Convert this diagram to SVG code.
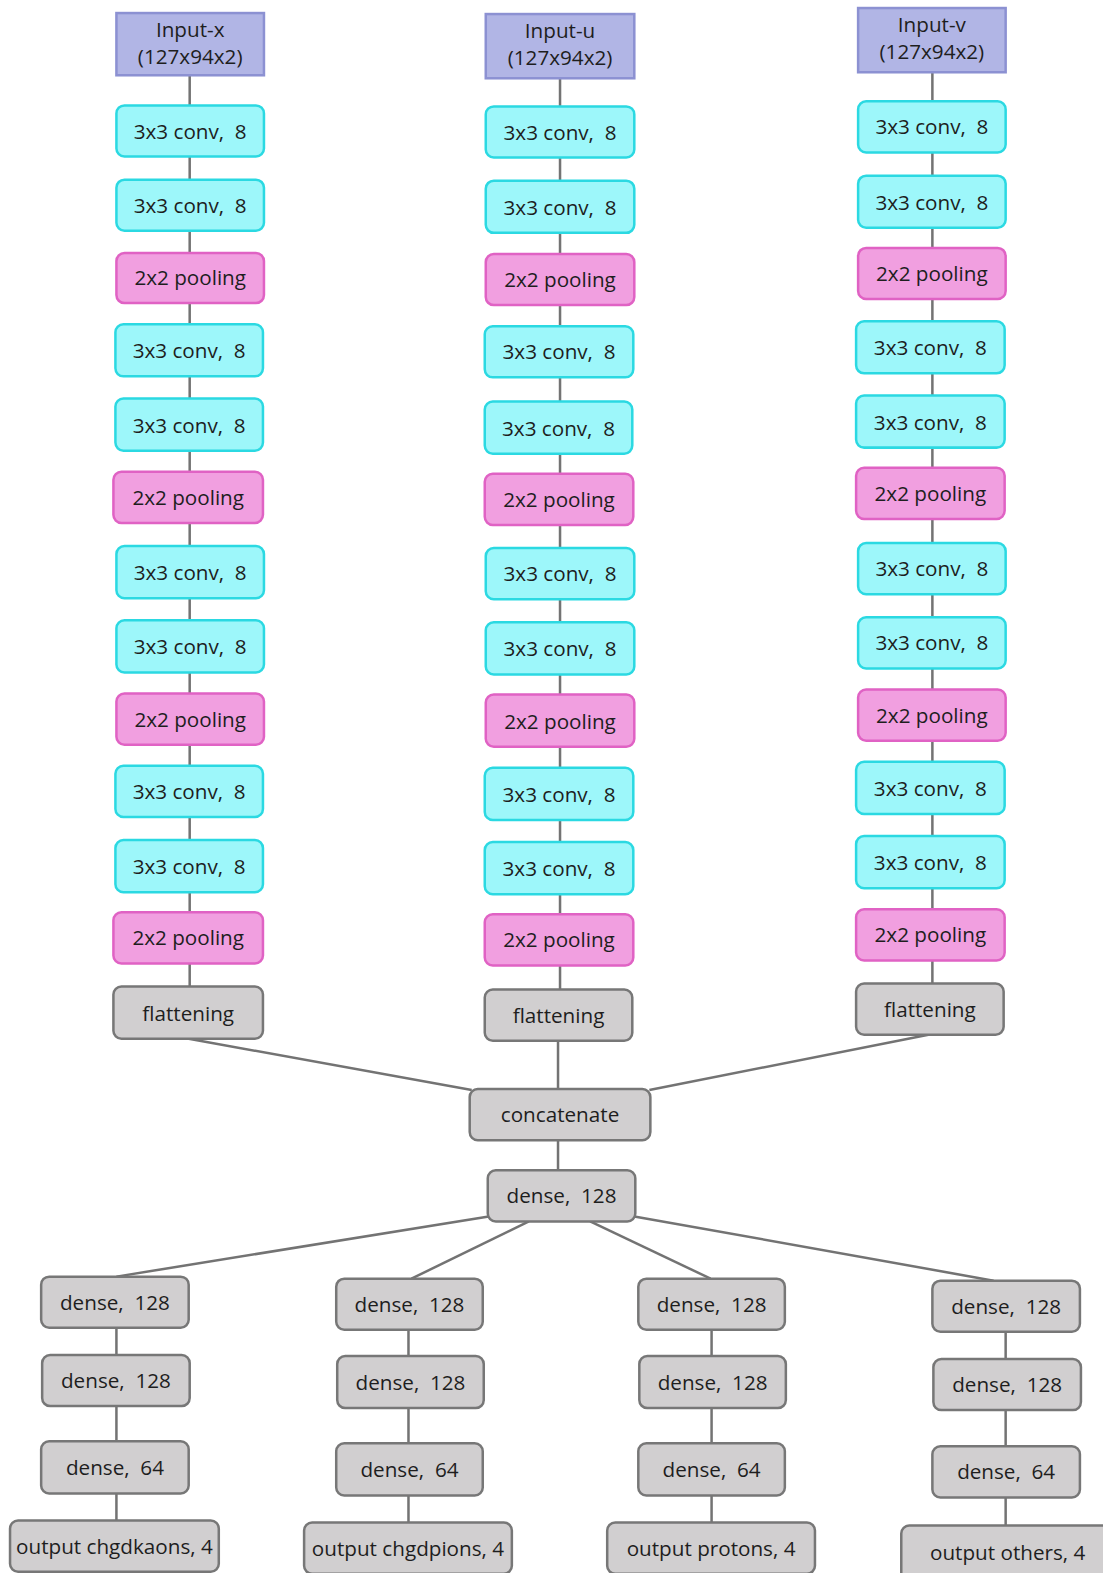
<svg xmlns="http://www.w3.org/2000/svg" width="1103" height="1573" viewBox="0 0 1103 1573">
<style>
rect{stroke-width:2.5}
.in{fill:#b1b5e5;stroke:#8c91d2}
.cv{fill:#9df7fa;stroke:#2bd9e2}
.pl{fill:#f19fe0;stroke:#e062c4}
.gr{fill:#d1cfd0;stroke:#777}
text{font-family:"Open Sans","Noto Sans",sans-serif;font-size:20.6px;fill:#1e1e1e;text-anchor:middle;white-space:pre}
.e line{stroke:#737373;stroke-width:2.5}
</style>
<rect width="1103" height="1573" fill="#fff"/>
<g transform="scale(1.00364)">
<g class="e">
<line x1="189" y1="75" x2="189" y2="983"/>
<line x1="558" y1="78" x2="558" y2="986"/>
<line x1="929" y1="72" x2="929" y2="980"/>
<line x1="188" y1="1035" x2="470" y2="1086"/>
<line x1="556" y1="1037" x2="556" y2="1085"/>
<line x1="925" y1="1031" x2="647" y2="1086"/>
<line x1="556" y1="1136" x2="556" y2="1166"/>
<line x1="487" y1="1212" x2="116" y2="1272"/>
<line x1="527" y1="1217" x2="410" y2="1274"/>
<line x1="588" y1="1217" x2="708" y2="1274"/>
<line x1="632" y1="1212" x2="990" y2="1276"/>
<line x1="116" y1="1323" x2="116" y2="1515"/>
<line x1="407" y1="1325" x2="407" y2="1517"/>
<line x1="709" y1="1325" x2="709" y2="1517"/>
<line x1="1002" y1="1327" x2="1002" y2="1520"/>
</g>
<g id="input-x"><rect class="in" x="116" y="13" width="147" height="62"/><text x="189.5" y="37">Input-x</text><text x="189.5" y="64">(127x94x2)</text></g>
<g id="x-conv1"><rect class="cv" x="116" y="105" width="147" height="51" rx="8"/><text x="189.5" y="138">3x3 conv,  8</text></g>
<g id="x-conv2"><rect class="cv" x="116" y="179" width="147" height="51" rx="8"/><text x="189.5" y="212">3x3 conv,  8</text></g>
<g id="x-pool1"><rect class="pl" x="116" y="252" width="147" height="50" rx="8"/><text x="189.5" y="284">2x2 pooling</text></g>
<g id="x-conv3"><rect class="cv" x="115" y="323" width="147" height="52" rx="8"/><text x="188.5" y="357">3x3 conv,  8</text></g>
<g id="x-conv4"><rect class="cv" x="115" y="397" width="147" height="52" rx="8"/><text x="188.5" y="431">3x3 conv,  8</text></g>
<g id="x-pool2"><rect class="pl" x="113" y="470" width="149" height="51" rx="8"/><text x="187.5" y="503">2x2 pooling</text></g>
<g id="x-conv5"><rect class="cv" x="116" y="544" width="147" height="52" rx="8"/><text x="189.5" y="578">3x3 conv,  8</text></g>
<g id="x-conv6"><rect class="cv" x="116" y="618" width="147" height="52" rx="8"/><text x="189.5" y="652">3x3 conv,  8</text></g>
<g id="x-pool3"><rect class="pl" x="116" y="691" width="147" height="51" rx="8"/><text x="189.5" y="724">2x2 pooling</text></g>
<g id="x-conv7"><rect class="cv" x="115" y="763" width="147" height="51" rx="8"/><text x="188.5" y="796">3x3 conv,  8</text></g>
<g id="x-conv8"><rect class="cv" x="115" y="837" width="147" height="52" rx="8"/><text x="188.5" y="871">3x3 conv,  8</text></g>
<g id="x-pool4"><rect class="pl" x="113" y="909" width="149" height="51" rx="8"/><text x="187.5" y="942">2x2 pooling</text></g>
<g id="x-flat"><rect class="gr" x="113" y="983" width="149" height="52" rx="8"/><text x="187.5" y="1017">flattening</text></g>

<g id="input-u"><rect class="in" x="484" y="14" width="148" height="64"/><text x="558" y="38">Input-u</text><text x="558" y="65">(127x94x2)</text></g>
<g id="u-conv1"><rect class="cv" x="484" y="106" width="148" height="51" rx="8"/><text x="558" y="139">3x3 conv,  8</text></g>
<g id="u-conv2"><rect class="cv" x="484" y="180" width="148" height="52" rx="8"/><text x="558" y="214">3x3 conv,  8</text></g>
<g id="u-pool1"><rect class="pl" x="484" y="253" width="148" height="51" rx="8"/><text x="558" y="286">2x2 pooling</text></g>
<g id="u-conv3"><rect class="cv" x="483" y="325" width="148" height="51" rx="8"/><text x="557" y="358">3x3 conv,  8</text></g>
<g id="u-conv4"><rect class="cv" x="483" y="400" width="147" height="52" rx="8"/><text x="556.5" y="434">3x3 conv,  8</text></g>
<g id="u-pool2"><rect class="pl" x="483" y="472" width="148" height="51" rx="8"/><text x="557" y="505">2x2 pooling</text></g>
<g id="u-conv5"><rect class="cv" x="484" y="546" width="148" height="51" rx="8"/><text x="558" y="579">3x3 conv,  8</text></g>
<g id="u-conv6"><rect class="cv" x="484" y="620" width="148" height="52" rx="8"/><text x="558" y="654">3x3 conv,  8</text></g>
<g id="u-pool3"><rect class="pl" x="484" y="692" width="148" height="52" rx="8"/><text x="558" y="726">2x2 pooling</text></g>
<g id="u-conv7"><rect class="cv" x="483" y="765" width="148" height="52" rx="8"/><text x="557" y="799">3x3 conv,  8</text></g>
<g id="u-conv8"><rect class="cv" x="483" y="839" width="148" height="52" rx="8"/><text x="557" y="873">3x3 conv,  8</text></g>
<g id="u-pool4"><rect class="pl" x="483" y="911" width="148" height="51" rx="8"/><text x="557" y="944">2x2 pooling</text></g>
<g id="u-flat"><rect class="gr" x="483" y="986" width="147" height="51" rx="8"/><text x="556.5" y="1019">flattening</text></g>

<g id="input-v"><rect class="in" x="855" y="8" width="147" height="64"/><text x="928.5" y="32">Input-v</text><text x="928.5" y="59">(127x94x2)</text></g>
<g id="v-conv1"><rect class="cv" x="855" y="101" width="147" height="51" rx="8"/><text x="928.5" y="134">3x3 conv,  8</text></g>
<g id="v-conv2"><rect class="cv" x="855" y="175" width="147" height="52" rx="8"/><text x="928.5" y="209">3x3 conv,  8</text></g>
<g id="v-pool1"><rect class="pl" x="855" y="247" width="147" height="51" rx="8"/><text x="928.5" y="280">2x2 pooling</text></g>
<g id="v-conv3"><rect class="cv" x="853" y="320" width="148" height="52" rx="8"/><text x="927" y="354">3x3 conv,  8</text></g>
<g id="v-conv4"><rect class="cv" x="853" y="394" width="148" height="52" rx="8"/><text x="927" y="428">3x3 conv,  8</text></g>
<g id="v-pool2"><rect class="pl" x="853" y="466" width="148" height="51" rx="8"/><text x="927" y="499">2x2 pooling</text></g>
<g id="v-conv5"><rect class="cv" x="855" y="541" width="147" height="51" rx="8"/><text x="928.5" y="574">3x3 conv,  8</text></g>
<g id="v-conv6"><rect class="cv" x="855" y="615" width="147" height="51" rx="8"/><text x="928.5" y="648">3x3 conv,  8</text></g>
<g id="v-pool3"><rect class="pl" x="855" y="687" width="147" height="51" rx="8"/><text x="928.5" y="720">2x2 pooling</text></g>
<g id="v-conv7"><rect class="cv" x="853" y="759" width="148" height="52" rx="8"/><text x="927" y="793">3x3 conv,  8</text></g>
<g id="v-conv8"><rect class="cv" x="853" y="833" width="148" height="52" rx="8"/><text x="927" y="867">3x3 conv,  8</text></g>
<g id="v-pool4"><rect class="pl" x="853" y="906" width="148" height="51" rx="8"/><text x="927" y="939">2x2 pooling</text></g>
<g id="v-flat"><rect class="gr" x="853" y="980" width="147" height="51" rx="8"/><text x="926.5" y="1013">flattening</text></g>

<g id="concatenate"><rect class="gr" x="468" y="1085" width="180" height="51" rx="8"/><text x="558" y="1118">concatenate</text></g>
<g id="dense-main"><rect class="gr" x="486" y="1166" width="147" height="51" rx="8"/><text x="559.5" y="1199">dense,  128</text></g>

<g id="b1-d1"><rect class="gr" x="41" y="1272" width="147" height="51" rx="8"/><text x="114.5" y="1305">dense,  128</text></g>
<g id="b1-d2"><rect class="gr" x="42" y="1350" width="147" height="51" rx="8"/><text x="115.5" y="1383">dense,  128</text></g>
<g id="b1-d3"><rect class="gr" x="41" y="1436" width="147" height="52" rx="8"/><text x="114.5" y="1470">dense,  64</text></g>
<g id="b1-out"><rect class="gr" x="10" y="1515" width="208" height="51" rx="8"/><text x="114" y="1548">output chgdkaons, 4</text></g>

<g id="b2-d1"><rect class="gr" x="335" y="1274" width="146" height="51" rx="8"/><text x="408" y="1307">dense,  128</text></g>
<g id="b2-d2"><rect class="gr" x="336" y="1351" width="146" height="52" rx="8"/><text x="409" y="1385">dense,  128</text></g>
<g id="b2-d3"><rect class="gr" x="335" y="1438" width="146" height="52" rx="8"/><text x="408" y="1472">dense,  64</text></g>
<g id="b2-out"><rect class="gr" x="303" y="1517" width="207" height="51" rx="8"/><text x="406.5" y="1550">output chgdpions, 4</text></g>

<g id="b3-d1"><rect class="gr" x="636" y="1274" width="146" height="51" rx="8"/><text x="709" y="1307">dense,  128</text></g>
<g id="b3-d2"><rect class="gr" x="637" y="1351" width="146" height="52" rx="8"/><text x="710" y="1385">dense,  128</text></g>
<g id="b3-d3"><rect class="gr" x="636" y="1438" width="146" height="52" rx="8"/><text x="709" y="1472">dense,  64</text></g>
<g id="b3-out"><rect class="gr" x="605" y="1517" width="207" height="51" rx="8"/><text x="708.5" y="1550">output protons, 4</text></g>

<g id="b4-d1"><rect class="gr" x="929" y="1276" width="147" height="51" rx="8"/><text x="1002.5" y="1309">dense,  128</text></g>
<g id="b4-d2"><rect class="gr" x="930" y="1354" width="147" height="51" rx="8"/><text x="1003.5" y="1387">dense,  128</text></g>
<g id="b4-d3"><rect class="gr" x="929" y="1441" width="147" height="51" rx="8"/><text x="1002.5" y="1474">dense,  64</text></g>
<g id="b4-out"><rect class="gr" x="898" y="1520" width="215" height="60" rx="8"/><text x="1004" y="1554">output others, 4</text></g>
</g>
</svg>
